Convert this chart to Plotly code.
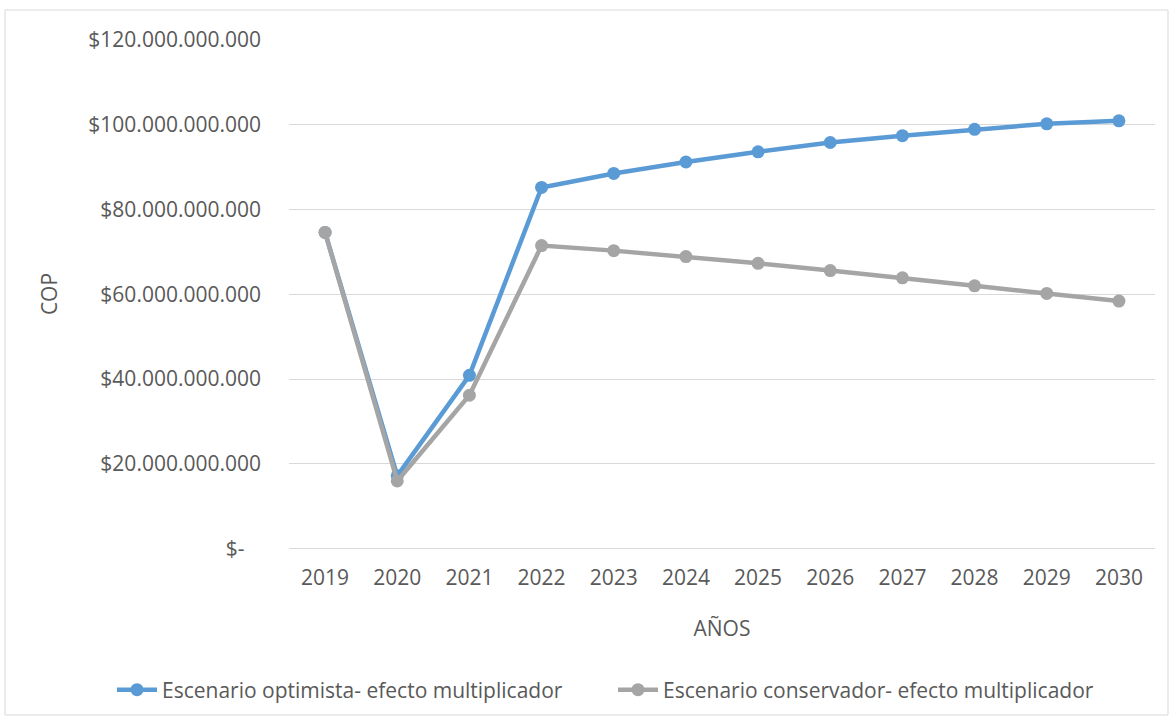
import plotly.graph_objects as go

years = ["2019", "2020", "2021", "2022", "2023", "2024", "2025", "2026", "2027", "2028", "2029", "2030"]
optimista = [74.6e9, 17.2e9, 40.9e9, 85.2e9, 88.5e9, 91.2e9, 93.6e9, 95.8e9, 97.4e9, 98.9e9, 100.2e9, 100.9e9]
conservador = [74.6e9, 16.0e9, 36.2e9, 71.5e9, 70.3e9, 68.9e9, 67.3e9, 65.6e9, 63.9e9, 62.0e9, 60.2e9, 58.4e9]
y_tickvals = [0, 20e9, 40e9, 60e9, 80e9, 100e9, 120e9]
y_ticktext = ["$-\u00a0\u00a0\u00a0", "$20.000.000.000", "$40.000.000.000", "$60.000.000.000",
              "$80.000.000.000", "$100.000.000.000", "$120.000.000.000"]

BLUE = "#5B9BD5"
GREY = "#A5A5A5"
TXT = "#595959"
GRID = "#D9D9D9"
FONT = "Open Sans"
FS = 21

fig = go.Figure()
fig.add_trace(go.Scatter(x=years, y=optimista, mode="lines+markers",
                         name="Escenario optimista- efecto multiplicador", legend="legend",
                         line=dict(color=BLUE, width=4.5), marker=dict(color=BLUE, size=13)))
fig.add_trace(go.Scatter(x=years, y=conservador, mode="lines+markers",
                         name="Escenario conservador- efecto multiplicador", legend="legend2",
                         line=dict(color=GREY, width=4.5), marker=dict(color=GREY, size=13)))

L, R, T, B = 289, 19, 39, 172
W, H = 1174, 721
pw = W - L - R
ph = H - T - B

leg_common = dict(orientation="h", xref="container", yref="container",
                  xanchor="left", y=0.043, yanchor="middle",
                  font=dict(family=FONT, size=FS, color=TXT), itemwidth=40,
                  bgcolor="rgba(0,0,0,0)")

fig.update_layout(
    width=W, height=H,
    margin=dict(l=L, r=R, t=T, b=B),
    paper_bgcolor="white", plot_bgcolor="white",
    font=dict(family=FONT, size=FS, color=TXT),
    showlegend=True,
    legend=dict(x=112 / W, **leg_common),
    legend2=dict(x=613 / W, **leg_common),
    shapes=[dict(type="rect", xref="paper", yref="paper",
                 x0=(5 - L) / pw, x1=(1168 - L) / pw,
                 y0=(H - B - 715) / ph, y1=(H - B - 10) / ph,
                 line=dict(color=GRID, width=1), fillcolor="rgba(0,0,0,0)", layer="below")],
)
fig.update_xaxes(type="category", range=[-0.5, 11.5], showgrid=False, zeroline=False,
                 showline=False, ticks="", ticklabelstandoff=14,
                 tickfont=dict(family=FONT, size=FS, color=TXT),
                 title=dict(text="AÑOS", font=dict(family=FONT, size=FS, color=TXT), standoff=31))
fig.update_yaxes(range=[-0.05e9, 120.2e9], tickvals=y_tickvals, ticktext=y_ticktext,
                 showgrid=True, gridcolor=GRID, gridwidth=1.3,
                 zeroline=True, zerolinecolor=GRID, zerolinewidth=1.3,
                 showline=False, ticks="", ticklabelstandoff=27,
                 tickfont=dict(family=FONT, size=FS, color=TXT),
                 title=dict(text="COP", font=dict(family=FONT, size=FS, color=TXT), standoff=24))

fig.write_html("out.html", config={"displayModeBar": False},
               post_script="document.body.style.margin='0';")
